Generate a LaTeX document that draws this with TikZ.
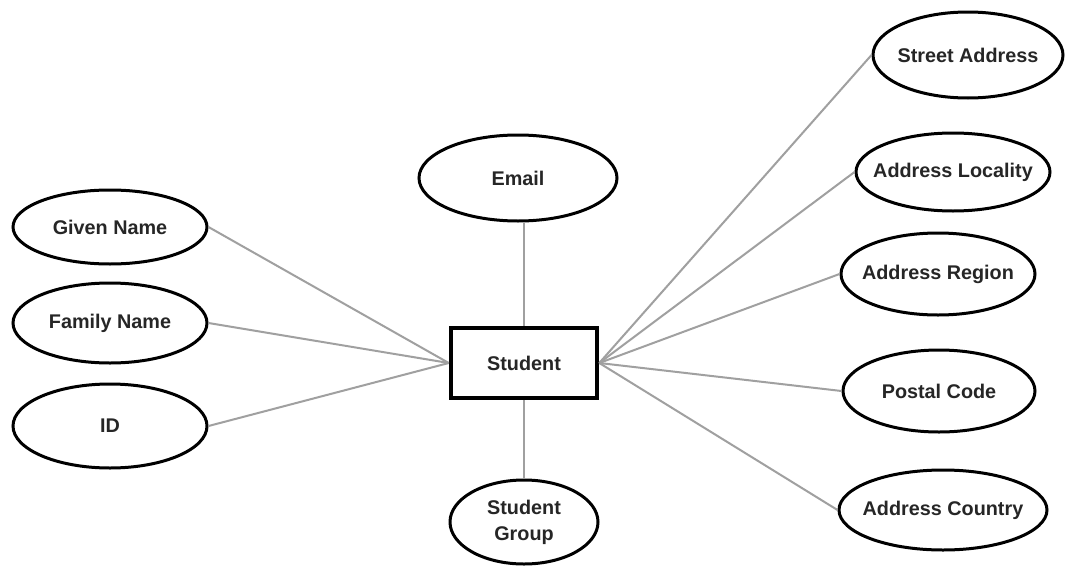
\documentclass[tikz,border=0pt]{standalone}
\usepackage{fontspec}
\setmainfont{Liberation Sans}
\usetikzlibrary{shapes.geometric}
\definecolor{linkgray}{HTML}{A0A0A0}
\begin{document}
\begin{tikzpicture}[x=1pt,y=-1pt,
  attr/.style 2 args={ellipse, draw=black, line width=3pt, fill=white,
    inner xsep=-40pt, inner ysep=-14pt, minimum width=#1, minimum height=#2,
    font=\fontsize{19.8}{26}\selectfont\bfseries, align=center, text=black!85},
  entity/.style={rectangle, draw=black, line width=4.5pt, fill=white,
    inner sep=0pt, minimum width=146, minimum height=70,
    font=\fontsize{19.8}{26}\selectfont\bfseries, text=black!85},
  link/.style={draw=linkgray, line width=2pt}]
\useasboundingbox (0,0) rectangle (1065,565);
\fill[white] (0,0) rectangle (1065,565);

% central entity
\node[entity] (student) at (524,363) {Student};

% attributes on the left
\node[attr={194}{74}] (given)  at (110,227) {Given Name};
\node[attr={194}{80}] (family) at (110,323) {Family Name};
\node[attr={194}{84}] (id)     at (110,426) {ID};

% attributes above and below
\node[attr={198}{86}] (email) at (518,178) {Email};
\node[attr={148}{84}] (group) at (524,522) {Student\\Group};

% attributes on the right
\node[attr={190}{86}] (street)   at (968,55)  {Street Address};
\node[attr={194}{78}] (locality) at (953,172) {Address Locality};
\node[attr={194}{82}] (region)   at (938,274) {Address Region};
\node[attr={192}{82}] (postal)   at (939,391) {Postal Code};
\node[attr={208}{80}] (country)  at (943,510) {Address Country};

% connectors
\draw[link] (given.east)  -- (student.west);
\draw[link] (family.east) -- (student.west);
\draw[link] (id.east)     -- (student.west);
\draw[link] (student.north) -- (student.north |- email.south);
\draw[link] (group.north) -- (student.south);
\draw[link] (street.west)   -- (student.east);
\draw[link] (locality.west) -- (student.east);
\draw[link] (region.west)   -- (student.east);
\draw[link] (postal.west)   -- (student.east);
\draw[link] (country.west)  -- (student.east);
\end{tikzpicture}
\end{document}
